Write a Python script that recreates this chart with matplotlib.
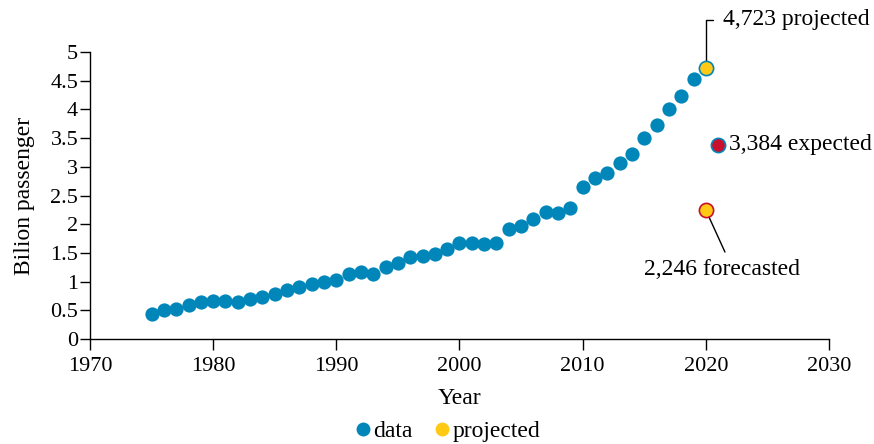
import matplotlib
matplotlib.use("Agg")
import matplotlib.pyplot as plt
from matplotlib.lines import Line2D

plt.rcParams['font.family'] = ['Liberation Serif', 'DejaVu Serif']

years = list(range(1975, 2020))
passengers = [0.43, 0.50, 0.53, 0.59, 0.65, 0.66, 0.66, 0.64, 0.69, 0.73,
              0.78, 0.85, 0.91, 0.95, 0.99, 1.02, 1.14, 1.16, 1.13, 1.25,
              1.33, 1.42, 1.45, 1.48, 1.57, 1.68, 1.68, 1.65, 1.68, 1.92,
              1.97, 2.09, 2.21, 2.20, 2.28, 2.64, 2.80, 2.90, 3.06, 3.23,
              3.51, 3.72, 4.00, 4.23, 4.53]

proj_year, proj_val = 2020, 4.723
exp_year, exp_val = 2021, 3.384
fc_year, fc_val = 2020, 2.246

yticks = [0, 0.5, 1, 1.5, 2, 2.5, 3, 3.5, 4, 4.5, 5]
ytick_labels = ["0", "0.5", "1", "1.5", "2", "2.5", "3", "3.5", "4", "4.5", "5"]
xticks = [1970, 1980, 1990, 2000, 2010, 2020, 2030]

BLUE = "#0086B8"
YELLOW = "#FFC914"
RED = "#C8102E"

fig = plt.figure(figsize=(8.74, 4.44), dpi=100)
ax = fig.add_axes([90/874, 1-339/444, (829-90)/874, (339-52)/444])

ms = 105
ax.scatter(years, passengers, s=ms, color=BLUE, zorder=3, linewidths=0)
ax.scatter([proj_year], [proj_val], s=ms, color=YELLOW, edgecolors=BLUE, linewidths=1.2, zorder=4)
ax.scatter([exp_year], [exp_val], s=ms, color=RED, edgecolors=BLUE, linewidths=1.2, zorder=4)
ax.scatter([fc_year], [fc_val], s=ms, color=YELLOW, edgecolors=RED, linewidths=1.2, zorder=4)

fs = 16
fs2 = 17
ax.annotate("4,723 projected", xy=(proj_year, proj_val), xytext=(12.5, 34.8),
            textcoords="offset points", ha="left", va="center", fontsize=fs2,
            arrowprops=dict(arrowstyle="-", color="black", lw=1,
                            connectionstyle="angle,angleA=0,angleB=90,rad=0",
                            relpos=(0, 0.5), shrinkA=5, shrinkB=5))
ax.annotate("3,384 expected", xy=(exp_year, exp_val), xytext=(8.0, 0),
            textcoords="offset points", ha="left", va="center", fontsize=fs2)
ax.annotate("2,246 forecasted", xy=(fc_year, fc_val), xytext=(12.0, -42.5),
            textcoords="offset points", ha="center", va="center", fontsize=fs2,
            arrowprops=dict(arrowstyle="-", color="black", lw=1,
                            relpos=(0.535, 1.0), shrinkA=3, shrinkB=5))

ax.set_xlim(1970, 2030)
ax.set_ylim(0, 5)
ax.set_xticks(xticks)
ax.set_yticks(yticks)
ax.set_yticklabels(ytick_labels)
ax.tick_params(axis="y", labelsize=fs, direction="out", length=7, width=1, pad=1.5)
ax.tick_params(axis="x", labelsize=fs, direction="out", length=8, width=1, pad=5)
for s in ["top", "right"]:
    ax.spines[s].set_visible(False)
ax.spines["left"].set_linewidth(1)
ax.spines["bottom"].set_linewidth(1)
ax.set_xlabel("Year", fontsize=fs2)
ax.xaxis.set_label_coords(0.5, -0.172)
ax.set_ylabel("Bilion passenger", fontsize=fs2)
ax.yaxis.set_label_coords(-0.075, 0.5)

handles = [Line2D([], [], marker="o", linestyle="none", markersize=10, markerfacecolor=BLUE, markeredgewidth=0),
           Line2D([], [], marker="o", linestyle="none", markersize=10, markerfacecolor=YELLOW, markeredgewidth=0)]
fig.legend(handles, ["data", "projected"], loc="lower center", bbox_to_anchor=(0.512, 0.005), ncol=2,
           frameon=False, fontsize=fs2, handletextpad=0.1, columnspacing=0.9, handlelength=0.7,
           borderpad=0, borderaxespad=0)

fig.savefig("out.png", dpi=100)
